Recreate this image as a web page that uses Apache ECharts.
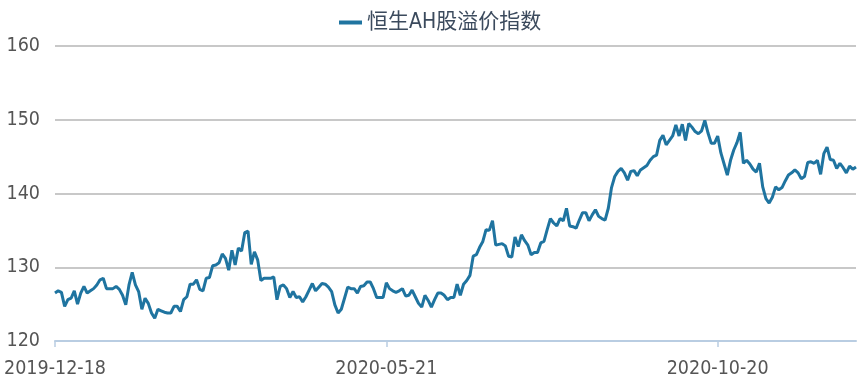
<!DOCTYPE html>
<html>
<head>
<meta charset="utf-8">
<script src="https://cdn.jsdelivr.net/npm/echarts@6/dist/echarts.min.js"></script>
<style>
html,body{margin:0;padding:0;background:#fff;}
#chart{width:866px;height:385px;}
</style>
</head>
<body>
<div id="chart"></div>
<script>
// Series name
const seriesName = '恒生AH股溢价指数';

// Trading-day calendar (categories): weekdays from start, minus listed closures
const startDate = '2019-12-18';
const pointCount = 250;
const closedDays = ['2019-12-25','2019-12-26','2020-01-01','2020-01-27','2020-01-28',
  '2020-04-10','2020-04-13','2020-05-01','2020-06-25','2020-07-01',
  '2020-10-01','2020-10-02','2020-10-13','2020-10-26'];

// Y axis ticks
const yTicks = [120, 130, 140, 150, 160];

// Index values
const values = [
126.5,126.8,126.6,124.7,125.6,125.8,126.8,125.0,126.5,127.4,
126.5,126.8,127.1,127.6,128.3,128.5,127.1,127.1,127.1,127.4,
127.0,126.2,124.9,127.6,129.3,127.6,126.7,124.3,125.8,125.1,
123.8,123.1,124.3,124.1,123.9,123.8,123.8,124.7,124.7,124.0,
125.6,126.0,127.7,127.7,128.3,127.0,126.8,128.5,128.6,130.2,
130.3,130.6,131.8,131.2,129.6,132.3,130.3,132.6,132.2,134.7,
134.9,130.4,132.1,131.0,128.2,128.5,128.5,128.5,128.7,125.6,
127.4,127.6,127.1,125.9,126.7,125.9,126.0,125.3,126.0,126.9,
127.8,126.8,127.3,127.8,127.7,127.3,126.7,124.9,123.8,124.3,
125.8,127.3,127.1,127.1,126.5,127.4,127.5,128.0,128.0,127.1,
125.9,125.9,125.9,127.9,127.1,126.8,126.6,126.8,127.1,126.1,
126.2,126.9,126.0,125.1,124.6,126.2,125.5,124.6,125.6,126.5,
126.5,126.2,125.6,125.9,125.9,127.7,126.2,127.7,128.2,128.9,
131.5,131.7,132.7,133.5,135.1,135.0,136.3,133.0,133.1,133.2,
132.9,131.5,131.4,134.1,132.8,134.4,133.6,133.0,131.7,132.0,
132.0,133.3,133.5,135.1,136.6,136.0,135.6,136.6,136.3,138.0,
135.6,135.5,135.3,136.4,137.4,137.4,136.3,137.1,137.8,136.9,
136.6,136.4,138.0,140.8,142.3,143.0,143.4,142.8,141.8,143.0,
143.1,142.4,143.2,143.5,143.8,144.5,145.0,145.2,147.2,147.9,
146.6,147.2,147.8,149.3,147.8,149.4,147.2,149.5,149.0,148.4,
148.1,148.5,149.9,148.2,146.8,146.8,147.8,145.5,144.0,142.5,
144.5,145.9,146.9,148.3,144.1,144.5,144.0,143.3,142.9,144.1,
140.9,139.3,138.7,139.5,140.9,140.5,140.8,141.7,142.5,142.8,
143.2,142.8,142.0,142.3,144.2,144.3,144.1,144.5,142.6,145.4,
146.3,144.6,144.5,143.4,144.1,143.5,142.8,143.7,143.3,143.6
];

function pad(n){return (n<10?'0':'')+n;}
function buildDates(){
  const out=[];
  const d=new Date(startDate+'T00:00:00Z');
  while(out.length<pointCount){
    const wd=d.getUTCDay();
    const s=d.getUTCFullYear()+'-'+pad(d.getUTCMonth()+1)+'-'+pad(d.getUTCDate());
    if(wd!==0&&wd!==6&&closedDays.indexOf(s)<0) out.push(s);
    d.setUTCDate(d.getUTCDate()+1);
  }
  return out;
}
const categories = buildDates();

const labelFont = "'DejaVu Sans Condensed','Liberation Sans Narrow','DejaVu Sans',sans-serif";
const chart = echarts.init(document.getElementById('chart'), null, {renderer:'canvas'});
chart.setOption({
  animation:false,
  color:['#1f74a0'],
  legend:{
    top:7,
    left:334,
    icon:'rect',
    itemWidth:23,
    itemHeight:4,
    itemGap:8,
    textStyle:{fontSize:21,color:'#3b4a5d',fontFamily:"'DejaVu Sans Condensed','Noto Sans CJK SC',sans-serif"},
    data:[seriesName]
  },
  grid:{left:55,right:10,top:46,bottom:44,containLabel:false},
  xAxis:{
    type:'category',
    boundaryGap:false,
    data:categories,
    axisLine:{lineStyle:{color:'#b9cde2',width:2}},
    axisTick:{show:true,interval:102,length:6,lineStyle:{color:'#b9cde2',width:1.5}},
    axisLabel:{interval:102,margin:18,fontSize:19.5,color:'#555555',fontFamily:labelFont},
    splitLine:{show:false}
  },
  yAxis:{
    type:'value',
    min:yTicks[0],
    max:yTicks[yTicks.length-1],
    interval:10,
    axisLine:{show:false},
    axisTick:{show:false},
    axisLabel:{margin:15,fontSize:19.5,color:'#555555',fontFamily:labelFont},
    splitLine:{lineStyle:{color:'#c8c8c8',width:2}}
  },
  series:[{
    name:seriesName,
    type:'line',
    data:values,
    symbol:'none',
    lineStyle:{width:3,color:'#1f74a0'},
    itemStyle:{color:'#1f74a0'}
  }]
});
</script>
</body>
</html>
